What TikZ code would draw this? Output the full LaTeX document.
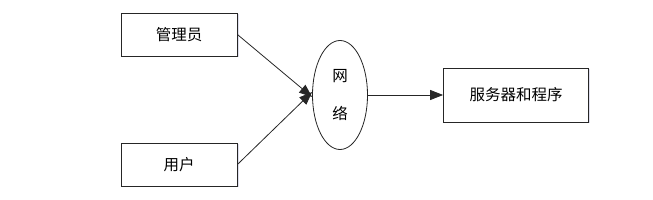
\documentclass[tikz,border=0pt]{standalone}
\usepackage{fontspec}
\newfontfamily\cjk{Noto Sans CJK SC}
\usetikzlibrary{arrows.meta,shapes.geometric,shadows}
\begin{document}
\begin{tikzpicture}[x=1pt,y=-1pt,
  box/.style={draw=black!85,line width=0.8pt,fill=white,minimum width=116pt,minimum height=43pt,inner sep=0pt,
    font=\cjk\fontsize{15.5}{18}\selectfont,
    drop shadow={shadow xshift=1.5pt,shadow yshift=-1.5pt,fill=blue!30!gray,opacity=0.2}},
  net/.style={draw=black!85,line width=0.8pt,ellipse,minimum width=55pt,minimum height=109pt,inner sep=0pt,
    font=\cjk\fontsize{15.5}{18}\selectfont,align=center},
  conn/.style={draw=black!85,line width=0.8pt,-{Triangle[length=13pt,width=10pt]}}]
\useasboundingbox (0,0) rectangle (653,200);
\node[box] (admin) at (179,34.5) {管理员};
\node[box] (user) at (179,164.5) {用户};
\node[net] (network) at (340,95) {网\\[20pt]络};
\node[box,minimum width=145pt,minimum height=54pt] (server) at (516,95) {服务器和程序};
\draw[conn] (admin.east) -- ([yshift=-2pt]network.west);
\draw[conn] (user.east) -- ([yshift=3pt]network.west);
\draw[conn] (network.east) -- (server.west);
\end{tikzpicture}
\end{document}
